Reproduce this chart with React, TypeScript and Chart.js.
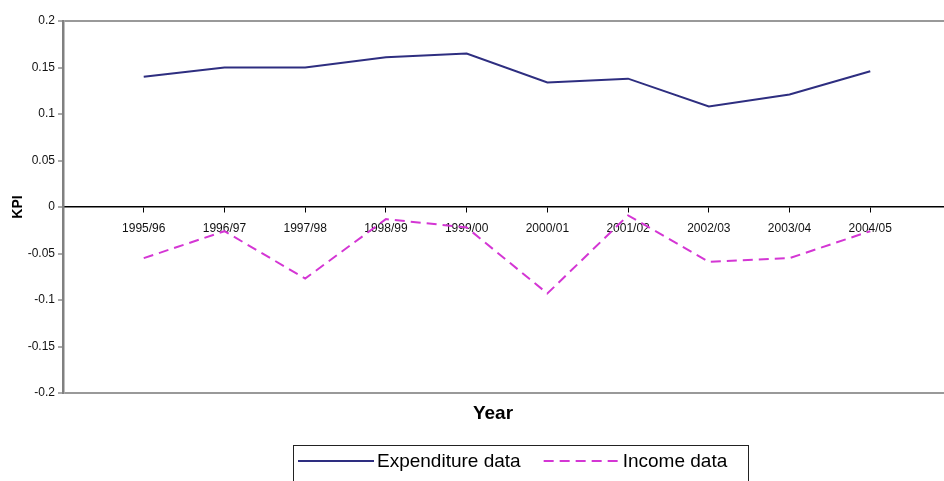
import React, { useEffect, useRef } from "react";
import { Chart, registerables } from "chart.js";

Chart.register(...registerables);

const categories = ["1995/96", "1996/97", "1997/98", "1998/99", "1999/00", "2000/01", "2001/02", "2002/03", "2003/04", "2004/05"];
const expenditure = [0.14, 0.15, 0.15, 0.161, 0.165, 0.134, 0.138, 0.108, 0.121, 0.146];
const income = [-0.055, -0.026, -0.077, -0.013, -0.022, -0.093, -0.009, -0.059, -0.055, -0.026];
const yTickValues = [-0.2, -0.15, -0.1, -0.05, 0, 0.05, 0.1, 0.15, 0.2];
const seriesNames = ["Expenditure data", "Income data"];
const xTitle = "Year";
const yTitle = "KPI";

const FONT = "'Liberation Sans', Arial, sans-serif";

const legendPlugin = {
  id: "excelLegend",
  afterDraw(chart: any) {
    const { ctx, chartArea } = chart;
    ctx.save();
    // x axis title
    ctx.font = `bold 19px ${FONT}`;
    ctx.fillStyle = "#000";
    ctx.textAlign = "center";
    ctx.textBaseline = "middle";
    ctx.fillText(xTitle, 493, chartArea.bottom + 21);
    // legend box
    const top = chartArea.bottom + 52;
    ctx.strokeStyle = "#222";
    ctx.lineWidth = 1;
    ctx.strokeRect(293.5, top + 0.5, 455, 60);
    const rowY = top + 16;
    const ds = chart.data.datasets;
    ctx.font = `19px ${FONT}`;
    ctx.textAlign = "left";
    let x = 298;
    ds.forEach((d: any) => {
      ctx.beginPath();
      ctx.strokeStyle = d.borderColor;
      ctx.lineWidth = 2;
      ctx.setLineDash(d.borderDash || []);
      ctx.moveTo(x, rowY);
      ctx.lineTo(x + 76, rowY);
      ctx.stroke();
      ctx.setLineDash([]);
      ctx.fillStyle = "#000";
      ctx.fillText(d.label, x + 79, rowY + 1);
      const w = ctx.measureText(d.label).width;
      x = x + 79 + w + 23;
    });
    ctx.restore();
  },
};

export default function App() {
  const ref = useRef<HTMLCanvasElement | null>(null);
  useEffect(() => {
    if (!ref.current) return;
    const chart = new Chart(ref.current, {
      type: "line",
      data: {
        datasets: [
          {
            label: seriesNames[0],
            data: expenditure.map((v, i) => ({ x: i, y: v })),
            borderColor: "#2e2e80",
            borderWidth: 2,
            pointRadius: 0,
            tension: 0,
            fill: false,
          },
          {
            label: seriesNames[1],
            data: income.map((v, i) => ({ x: i, y: v })),
            borderColor: "#d436d4",
            borderWidth: 2,
            borderDash: [10, 6],
            pointRadius: 0,
            tension: 0,
            fill: false,
          },
        ],
      },
      options: {
        responsive: false,
        animation: false,
        devicePixelRatio: 1,
        layout: { padding: { top: 21, bottom: 88, left: 0, right: 0 } },
        plugins: { legend: { display: false }, tooltip: { enabled: false } },
        scales: {
          x: {
            type: "linear",
            position: { y: 0 } as any,
            min: -1,
            max: 10,
            ticks: {
              stepSize: 1,
              autoSkip: false,
              maxRotation: 0,
              padding: 9,
              color: "#111",
              font: { family: FONT, size: 12 },
              callback: (v: any) => (Number.isInteger(v) && categories[v] !== undefined ? categories[v] : ""),
            },
            grid: {
              display: true,
              drawOnChartArea: false,
              drawTicks: true,
              tickLength: 5,
              tickWidth: 1,
              color: (c: any) => (c.tick && c.tick.value >= 0 && c.tick.value < categories.length ? "#000" : "rgba(0,0,0,0)"),
              tickColor: (c: any) => (c.tick && c.tick.value >= 0 && c.tick.value < categories.length ? "#000" : "rgba(0,0,0,0)"),
            },
            border: { display: true, color: "#000", width: 1.5 },
          },
          y: {
            type: "linear",
            position: "left",
            min: -0.2,
            max: 0.2,
            afterBuildTicks: (s: any) => {
              s.ticks = yTickValues.map((v) => ({ value: v }));
            },
            afterFit: (s: any) => {
              s.width = 63;
            },
            ticks: {
              padding: 3,
              color: "#111",
              font: { family: FONT, size: 12 },
              callback: (v: any) => String(v),
            },
            grid: {
              display: true,
              drawOnChartArea: true,
              drawTicks: true,
              tickLength: 5,
              tickWidth: 1,
              lineWidth: 2,
              color: (c: any) => (c.tick && Math.abs(Math.abs(c.tick.value) - 0.2) < 1e-9 ? "#999" : "rgba(0,0,0,0)"),
              tickColor: "#555",
            },
            border: { display: true, color: "#808080", width: 2.5 },
            title: {
              display: true,
              text: yTitle,
              color: "#000",
              font: { family: FONT, size: 14, weight: "bold" },
              padding: { top: 10, bottom: 0 },
            },
          },
        },
      },
      plugins: [legendPlugin],
    } as any);
    return () => chart.destroy();
  }, []);
  return (
    <div style={{ position: "fixed", left: 0, top: 0, width: 944, height: 481, overflow: "hidden", background: "#fff" }}>
      <canvas ref={ref} width={960} height={481} style={{ width: 960, height: 481, display: "block" }} />
    </div>
  );
}
